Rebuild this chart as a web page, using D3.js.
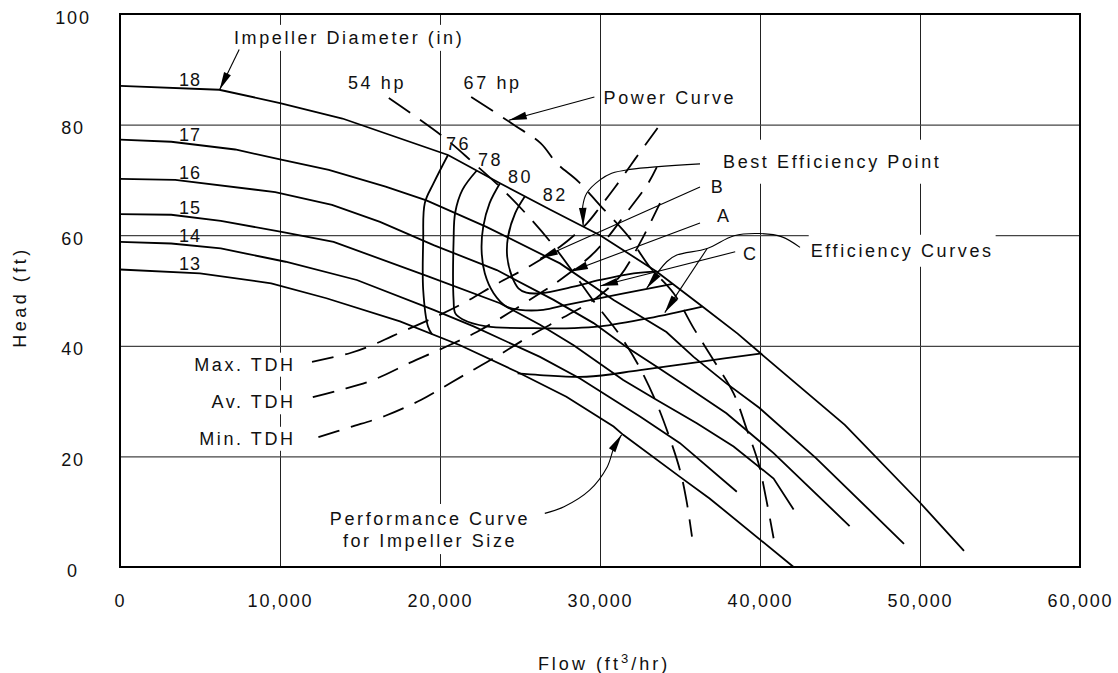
<!DOCTYPE html>
<html>
<head>
<meta charset="utf-8">
<script src="https://cdn.jsdelivr.net/npm/d3@7"></script>
<style>
  body { margin: 0; background: #fff; }
  text { font-family: "Liberation Sans", Arial, sans-serif; fill: #111; }
</style>
</head>
<body>
<svg id="chart"></svg>
<script>
const width = 1118;
const height = 673;
const margin = { top: 14, left: 120, bottom: 106, right: 38 };
const iwidth = width - margin.left - margin.right;
const iheight = height - margin.top - margin.bottom;

// axis ticks
const flowTicks = [0, 10000, 20000, 30000, 40000, 50000, 60000];
const headTicks = [0, 20, 40, 60, 80, 100];

// performance curves per impeller diameter (in): [flow ft3/hr, head ft]
const imp18 = [[0,87.0],[6200,86.3],[10000,83.9],[13900,81.1],[20500,74.5],[23750,69.4],[26900,64.6],[30000,60.0],[33550,53.4],[36400,47.1],[38600,42.2],[40050,38.6],[45300,25.7],[49950,11.8],[52750,2.9]];
const imp17 = [[0,77.3],[3200,76.9],[7200,75.5],[10000,73.7],[13050,71.8],[16600,68.8],[19150,66.3],[22900,61.5],[27500,54.9],[30850,48.3],[34150,42.5],[35850,38.0],[37900,33.2],[39950,28.8],[43500,19.7],[49000,4.2]];
const imp16 = [[0,70.2],[3450,70.0],[9700,67.8],[13250,65.5],[16250,62.4],[19600,58.2],[23550,53.7],[27100,48.3],[29600,44.1],[31650,39.8],[33550,36.2],[35600,32.3],[37900,27.8],[40850,20.6],[45600,7.4]];
const imp15 = [[0,63.8],[3200,63.7],[6300,62.6],[10100,60.6],[13350,58.8],[19300,52.5],[23750,47.7],[26250,43.8],[28350,40.1],[31450,33.8],[33550,30.2],[36050,26.0],[38350,21.8],[40850,16.0],[42100,10.4]];
const imp14 = [[0,58.8],[3200,58.5],[6300,57.6],[10350,55.2],[14800,51.9],[19600,46.5],[22100,43.5],[26250,38.0],[28750,34.1],[32500,27.2],[35000,22.4],[38550,13.6]];
const imp13 = [[0,53.8],[5000,53.1],[9450,51.3],[12900,48.6],[17500,44.4],[21250,40.1],[24800,35.3],[27900,30.8],[30850,25.4],[31450,23.9],[35000,16.3],[36850,12.4],[42100,0]];
const impellerSizes = ["18", "17", "16", "15", "14", "13"];

// efficiency curves (%)
const eff76 = [[20500,74.5],[19600,69.4],[19050,65.8],[18950,59.1],[18950,50.1],[19250,43.5],[19500,42.1]];
const eff76b = [[24850,35.0],[26250,34.7],[29150,34.4],[32500,35.6],[36250,37.1],[40000,38.6]];
const eff78 = [[22300,71.7],[21400,68.2],[20950,64.1],[20850,59.1],[20850,48.3],[20950,45.9],[21400,44.8],[22900,43.5],[25850,43.2],[28350,43.2],[30000,43.5],[33050,45.0],[36400,47.1]];
const eff80 = [[23750,69.4],[23100,65.8],[22700,61.5],[22600,57.3],[22800,53.1],[23350,49.5],[24150,47.1],[25000,46.5],[26450,46.5],[27900,47.4],[30000,48.6],[33100,50.4],[34550,51.2]];
const eff82 = [[25300,67.0],[24700,64.0],[24250,59.7],[24200,56.1],[24500,52.5],[24900,50.4],[25400,49.6],[26250,49.5],[28350,50.7],[30000,51.9],[32100,53.1],[33550,53.4]];

// power curves (hp)
const hp54 = [[16800,84.8],[20200,77.8],[22000,73.3],[24150,67.6],[26900,58.8],[29700,47.7],[31150,42.3],[32400,36.5],[33450,30.2],[34250,24.2],[35000,17.5],[35400,12.1],[35750,5.5]];
const hp67 = [[21950,85.0],[24650,79.9],[26300,76.6],[27300,73.0],[28650,69.7],[30000,65.4],[31800,59.7],[33100,54.3],[34600,49.5],[35850,43.2],[37100,37.4],[38350,31.4],[39150,25.1],[39900,18.8],[40400,12.1],[40850,5.2]];

// system curves (total dynamic head)
const maxTdh = [[12000,37.1],[14400,38.7],[15750,40.1],[17050,41.8],[19400,44.8],[21450,47.7],[23550,51.2],[25600,54.4],[27500,57.9],[29200,62.2],[30000,65.1],[30950,68.7],[32200,73.8],[33600,79.4]];
const avTdh = [[12050,30.7],[13750,32.0],[15800,33.8],[18100,36.9],[20200,39.6],[22300,42.5],[24400,46.1],[26250,49.5],[27500,51.9],[29400,56.2],[30450,59.5],[31450,63.3],[32950,69.1],[33550,72.3]];
const minTdh = [[12400,23.5],[14400,25.3],[16550,27.3],[18800,30.2],[20200,32.5],[21500,34.7],[23500,38.0],[25750,42.0],[27750,45.2],[29750,48.6],[31250,52.6],[32500,58.6],[33750,65.8]];

// leader lines of the callouts, last point = arrow tip
const impLeader = [[7450,93.6],[6225,86.3]];
const powerLeader = [[29650,85.0],[24300,80.8]];
const bepLeader = [[36250,72.9],[31875,71.9],[30730,71.2],[30000,70.0],[29170,67.6],[28920,65.2],[28950,61.7]];
const bLeader = [[36250,68.7],[26250,55.8]];
const aLeader = [[36250,62.2],[28125,53.4]];
const cLeader = [[38450,57.0],[30000,50.8]];
const effLeader1 = [[42500,57.8],[41375,59.7],[39950,60.3],[38375,59.9],[36700,57.6],[34800,56.4],[34170,55.2],[32920,50.4]];
const effLeader2 = [[36700,57.6],[34050,46.0]];
const perfLeader = [[26550,9.7],[27750,10.9],[29350,13.9],[30450,18.1],[30900,21.8],[31350,23.9]];

// callout texts
const notes = [
  { text: "Impeller Diameter (in)", flow: 7125, head: 94.6, anchor: "start" },
  { text: "54 hp", flow: 14250, head: 86.4, anchor: "start" },
  { text: "67 hp", flow: 21475, head: 86.4, anchor: "start" },
  { text: "Power Curve", flow: 30225, head: 83.7, anchor: "start" },
  { text: "76", flow: 20375, head: 75.4, anchor: "start" },
  { text: "78", flow: 22375, head: 72.5, anchor: "start" },
  { text: "80", flow: 24250, head: 69.4, anchor: "start" },
  { text: "82", flow: 26419, head: 66.1, anchor: "start" },
  { text: "Best Efficiency Point", flow: 37690, head: 72.2, anchor: "start" },
  { text: "B", flow: 36920, head: 67.6, anchor: "start" },
  { text: "A", flow: 37310, head: 62.3, anchor: "start" },
  { text: "C", flow: 38940, head: 55.5, anchor: "start" },
  { text: "Efficiency Curves", flow: 43170, head: 56.1, anchor: "start" },
  { text: "Max. TDH", flow: 10980, head: 35.5, anchor: "end" },
  { text: "Av. TDH", flow: 10980, head: 28.7, anchor: "end" },
  { text: "Min. TDH", flow: 10980, head: 22.1, anchor: "end" },
  { text: "Performance Curve", flow: 19375, head: 7.6, anchor: "middle" },
  { text: "for Impeller Size", flow: 19375, head: 3.6, anchor: "middle" }
];

const svg = d3.select("#chart").attr("width", width).attr("height", height);
const g = svg.append("g").attr("transform", `translate(${margin.left},${margin.top})`);

const x = d3.scaleLinear().domain([0, 60000]).range([0, iwidth]);
const y = d3.scaleLinear().domain([0, 100]).range([iheight, 0]);

const straight = d3.line().x(d => x(d[0])).y(d => y(d[1]));
const smooth = d3.line().curve(d3.curveCatmullRom.alpha(0.5)).x(d => x(d[0])).y(d => y(d[1]));

// grid
g.append("g")
  .attr("transform", `translate(0,${iheight})`)
  .call(d3.axisBottom(x).tickValues(flowTicks).tickSize(-iheight).tickFormat(""))
  .call(a => a.select(".domain").remove())
  .selectAll("line").attr("stroke", "#222").attr("stroke-width", 1);
g.append("g")
  .call(d3.axisLeft(y).tickValues(headTicks).tickSize(-iwidth).tickFormat(""))
  .call(a => a.select(".domain").remove())
  .selectAll("line").attr("stroke", "#444").attr("stroke-width", 1.2);

const maskLayer = g.append("g");

// tick labels
const xAxis = g.append("g")
  .attr("transform", `translate(0,${iheight})`)
  .call(d3.axisBottom(x).tickValues(flowTicks).tickSize(0).tickFormat(d3.format(",")));
xAxis.select(".domain").remove();
xAxis.selectAll("text").attr("y", 27).attr("font-size", 18).attr("letter-spacing", 1.8)
  .attr("font-family", null).style("fill", "#111");

const yAxis = g.append("g")
  .call(d3.axisLeft(y).tickValues(headTicks).tickSize(0));
yAxis.select(".domain").remove();
yAxis.selectAll("text").attr("x", -47).attr("dy", "0.5em").attr("text-anchor", "middle")
  .attr("font-size", 18).attr("letter-spacing", 1.8).attr("font-family", null).style("fill", "#111");

// axis titles
const flowTitle = svg.append("text")
  .attr("x", 604).attr("y", 670).attr("text-anchor", "middle")
  .attr("font-size", 18).attr("letter-spacing", 3);
flowTitle.append("tspan").text("Flow (ft");
flowTitle.append("tspan").attr("dy", -7).attr("font-size", 13).text("3");
flowTitle.append("tspan").attr("dy", 7).text("/hr)");

svg.append("text")
  .attr("transform", "translate(26,297) rotate(-90)")
  .attr("text-anchor", "middle")
  .attr("font-size", 18).attr("letter-spacing", 3.5)
  .text("Head (ft)");

// curves
const curves = g.append("g").attr("fill", "none").attr("stroke", "#000");

[imp18, imp17, imp16, imp15, imp14, imp13].forEach(c => {
  curves.append("path").attr("d", straight(c)).attr("stroke-width", 1.8);
});

[eff76, eff76b, eff78, eff80, eff82].forEach(c => {
  curves.append("path").attr("d", smooth(c)).attr("stroke-width", 1.8);
});

[hp54, hp67].forEach(c => {
  curves.append("path").attr("d", smooth(c)).attr("stroke-width", 1.8)
    .attr("stroke-dasharray", "26,12");
});

[maxTdh, avTdh, minTdh].forEach(c => {
  curves.append("path").attr("d", smooth(c)).attr("stroke-width", 1.8)
    .attr("stroke-dasharray", "22,12");
});

// leaders with filled arrow heads
function arrowHead(pts) {
  const n = pts.length;
  const x1 = x(pts[n - 2][0]), y1 = y(pts[n - 2][1]);
  const x2 = x(pts[n - 1][0]), y2 = y(pts[n - 1][1]);
  const a = Math.atan2(y2 - y1, x2 - x1);
  const L = 18, w = 3.8;
  const bx = x2 - L * Math.cos(a), by = y2 - L * Math.sin(a);
  const nx = -Math.sin(a) * w, ny = Math.cos(a) * w;
  g.append("path")
    .attr("d", `M${x2},${y2}L${bx + nx},${by + ny}L${bx - nx},${by - ny}Z`)
    .attr("fill", "#000");
}

[impLeader, powerLeader, bLeader, aLeader, cLeader, effLeader2].forEach(c => {
  curves.append("path").attr("d", straight(c)).attr("stroke-width", 1.1);
  arrowHead(c);
});
[bepLeader, effLeader1, perfLeader].forEach(c => {
  curves.append("path").attr("d", smooth(c)).attr("stroke-width", 1.1);
  arrowHead(c);
});

// labels
const labelLayer = g.append("g").attr("font-size", 18).attr("letter-spacing", 2.6);

function headAt(curve, f) {
  for (let i = 1; i < curve.length; i++) {
    if (curve[i][0] >= f) {
      const t = (f - curve[i - 1][0]) / (curve[i][0] - curve[i - 1][0]);
      return curve[i - 1][1] + t * (curve[i][1] - curve[i - 1][1]);
    }
  }
  return curve[curve.length - 1][1];
}

[imp18, imp17, imp16, imp15, imp14, imp13].forEach((c, i) => {
  labelLayer.append("text")
    .attr("x", x(4375)).attr("y", y(headAt(c, 4375)) - 3)
    .attr("text-anchor", "middle")
    .attr("letter-spacing", 1)
    .text(impellerSizes[i]);
});

const masked = { "Impeller Diameter (in)": 3, "Best Efficiency Point": 12, "Efficiency Curves": 6,
  "Max. TDH": 2, "Av. TDH": 2, "Min. TDH": 2, "Performance Curve": 5, "for Impeller Size": 3 };

notes.forEach(n => {
  const t = labelLayer.append("text")
    .attr("x", x(n.flow)).attr("y", y(n.head))
    .attr("text-anchor", n.anchor)
    .text(n.text);
  if (masked[n.text] !== undefined) {
    const b = t.node().getBBox();
    const p = masked[n.text];
    maskLayer.append("rect")
      .attr("x", b.x - 2).attr("y", b.y - p)
      .attr("width", b.width + 4).attr("height", b.height + 2 * p)
      .attr("fill", "#fff");
  }
});

// frame
g.append("rect")
  .attr("width", iwidth).attr("height", iheight)
  .attr("fill", "none").attr("stroke", "#000").attr("stroke-width", 2);
</script>
</body>
</html>
